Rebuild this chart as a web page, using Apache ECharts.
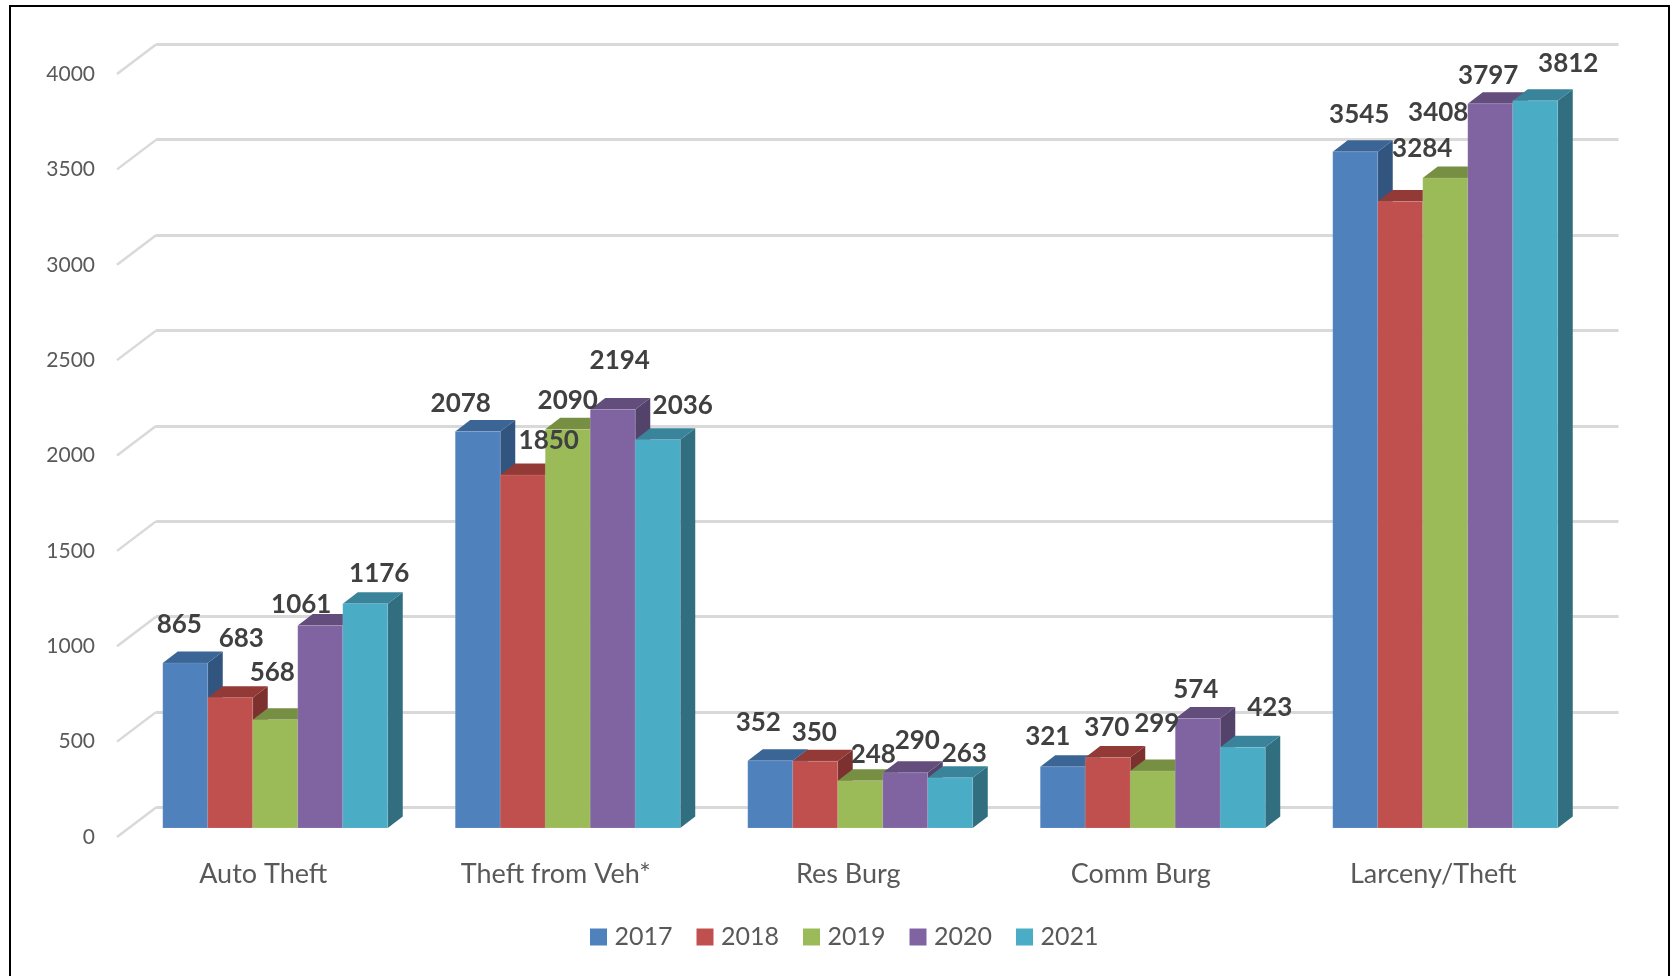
<!DOCTYPE html>
<html>
<head>
<meta charset="utf-8">
<style>html,body{margin:0;padding:0;background:#fff;overflow:hidden}#c{width:1673px;height:976px}</style>
<script src="https://cdn.jsdelivr.net/npm/echarts@6/dist/echarts.min.js"></script>
</head>
<body>
<div id="c"></div>
<script>
const categories = ['Auto Theft', 'Theft from Veh*', 'Res Burg', 'Comm Burg', 'Larceny/Theft'];
const years = ['2017', '2018', '2019', '2020', '2021'];
const values2017 = [865, 2078, 352, 321, 3545];
const values2018 = [683, 1850, 350, 370, 3284];
const values2019 = [568, 2090, 248, 299, 3408];
const values2020 = [1061, 2194, 290, 574, 3797];
const values2021 = [1176, 2036, 263, 423, 3812];
const yTicks = [0, 500, 1000, 1500, 2000, 2500, 3000, 3500, 4000];

// Styling
const frontColors = ['#4F81BD', '#C0504D', '#9BBB59', '#8064A2', '#4BACC6'];
const topColors = ['#3B6595', '#933A37', '#778F43', '#624D7C', '#39849A'];
const sideColors = ['#32557F', '#7D312F', '#647A3A', '#534269', '#316F80'];
// Hand-placed data label offsets (px) from the top-centre of each bar, per year then category
const labelOffsets = [
  [[-6,-38],[-17,-28],[-12,-38],[-15,-30],[4,-37]],
  [[11,-59],[26,-35],[-1,-29],[-1,-30],[22,-53]],
  [[-3,-47],[0,-29],[13,-26],[4,-47],[-7,-65]],
  [[-19,-21],[7,-49],[12,-32],[-2,-29],[-2,-28]],
  [[14,-30],[25,-34],[14,-24],[27,-40],[33,-37]]
];
const allValues = [values2017, values2018, values2019, values2020, values2021];
const BAR_W = 45, DX = 15, DY = 11.5, SHIFT_X = 12, SHIFT_Y = -9;
const FONT = 'Lato, "Open Sans", sans-serif';

function barGeom(api, j) {
  const top = api.coord([api.value(0), api.value(1)]);
  const base = api.coord([api.value(0), 0]);
  const x = top[0] + SHIFT_X + (j - 2) * BAR_W - BAR_W / 2;
  return { x, yTop: top[1] + SHIFT_Y, yBase: base[1] + SHIFT_Y };
}
function barSeries(j) {
  return {
    name: years[j], type: 'custom', xAxisIndex: 1, yAxisIndex: 1, clip: false, z: 3,
    itemStyle: { color: frontColors[j] },
    encode: { x: 0, y: 1 },
    data: allValues[j].map((v, i) => [i, v]),
    renderItem(params, api) {
      const g = barGeom(api, j);
      const x2 = g.x + BAR_W;
      return {
        type: 'group',
        children: [
          { type: 'polygon', shape: { points: [[x2, g.yTop], [x2 + DX, g.yTop - DY], [x2 + DX, g.yBase - DY], [x2, g.yBase]] }, style: { fill: sideColors[j] } },
          { type: 'polygon', shape: { points: [[g.x, g.yTop], [g.x + DX, g.yTop - DY], [x2 + DX, g.yTop - DY], [x2, g.yTop]] }, style: { fill: topColors[j] } },
          { type: 'rect', shape: { x: g.x, y: g.yTop, width: BAR_W, height: g.yBase - g.yTop }, style: { fill: frontColors[j], stroke: 'rgba(255,255,255,0.12)', lineWidth: 1 } }
        ]
      };
    }
  };
}
const labelData = [];
allValues.forEach((arr, j) => arr.forEach((v, i) => labelData.push([i, v, j])));

const option = {
  animation: false,
  backgroundColor: '#fff',
  textStyle: { fontFamily: FONT },
  graphic: [{ type: 'rect', silent: true, z: 100, shape: { x: 10, y: 6, width: 1659, height: 1000 }, style: { fill: 'none', stroke: '#000', lineWidth: 2 } }],
  legend: {
    show: true, data: years, left: 590, top: 924.5, padding: 0, itemWidth: 17, itemHeight: 17, itemGap: 24,
    icon: 'rect', textStyle: { fontSize: 25, color: '#595959', fontFamily: FONT, padding: [0, 0, 0, 2.5] }
  },
  grid: [
    { left: 156, top: 44, width: 1462.5, height: 763.5 },
    { left: 117, top: 74, width: 1462.5, height: 763 }
  ],
  xAxis: [
    { type: 'category', gridIndex: 0, data: categories, axisLine: { show: false }, axisTick: { show: false }, axisLabel: { show: false }, splitLine: { show: false } },
    { type: 'category', gridIndex: 1, data: categories, axisLine: { show: false }, axisTick: { show: false }, splitLine: { show: false },
      axisLabel: { margin: 24, fontSize: 27, color: '#595959', fontFamily: FONT, interval: 0 } }
  ],
  yAxis: [
    { type: 'value', gridIndex: 0, min: 0, max: 4000, interval: 500, axisLine: { show: false }, axisTick: { show: false }, axisLabel: { show: false },
      splitLine: { show: true, lineStyle: { color: '#D9D9D9', width: 3 } } },
    { type: 'value', gridIndex: 1, min: 0, max: 4000, interval: 500, axisLine: { show: false }, axisTick: { show: false }, splitLine: { show: false },
      axisLabel: { margin: 22, fontSize: 21, color: '#595959', fontFamily: FONT, formatter: v => String(v), padding: [2, 0, 0, 0] } }
  ],
  series: [
    {
      type: 'custom', xAxisIndex: 1, yAxisIndex: 1, clip: false, z: 1, silent: true,
      encode: { y: 0 },
      data: yTicks.map(v => [v]),
      renderItem(params, api) {
        const y = api.coord([0, api.value(0)])[1];
        const x = params.coordSys.x;
        return { type: 'line', shape: { x1: x, y1: y, x2: x + 39, y2: y - 29.5 }, style: { stroke: '#D9D9D9', lineWidth: 2.5 } };
      }
    },
    ...years.map((y, j) => barSeries(j)),
    {
      type: 'custom', xAxisIndex: 1, yAxisIndex: 1, clip: false, z: 5, silent: true,
      encode: { x: 0, y: 1 },
      data: labelData,
      renderItem(params, api) {
        const i = api.value(0), v = api.value(1), j = api.value(2);
        const p = api.coord([i, v]);
        const off = labelOffsets[j][i];
        return {
          type: 'text',
          style: {
            text: String(v),
            x: p[0] + SHIFT_X + (j - 2) * BAR_W + off[0],
            y: p[1] + SHIFT_Y + off[1],
            align: 'center', verticalAlign: 'middle',
            fill: '#404040', font: 'bold 26px ' + FONT
          }
        };
      }
    }
  ]
};
echarts.init(document.getElementById('c'), null, { renderer: 'canvas' }).setOption(option);
</script>
</body>
</html>
